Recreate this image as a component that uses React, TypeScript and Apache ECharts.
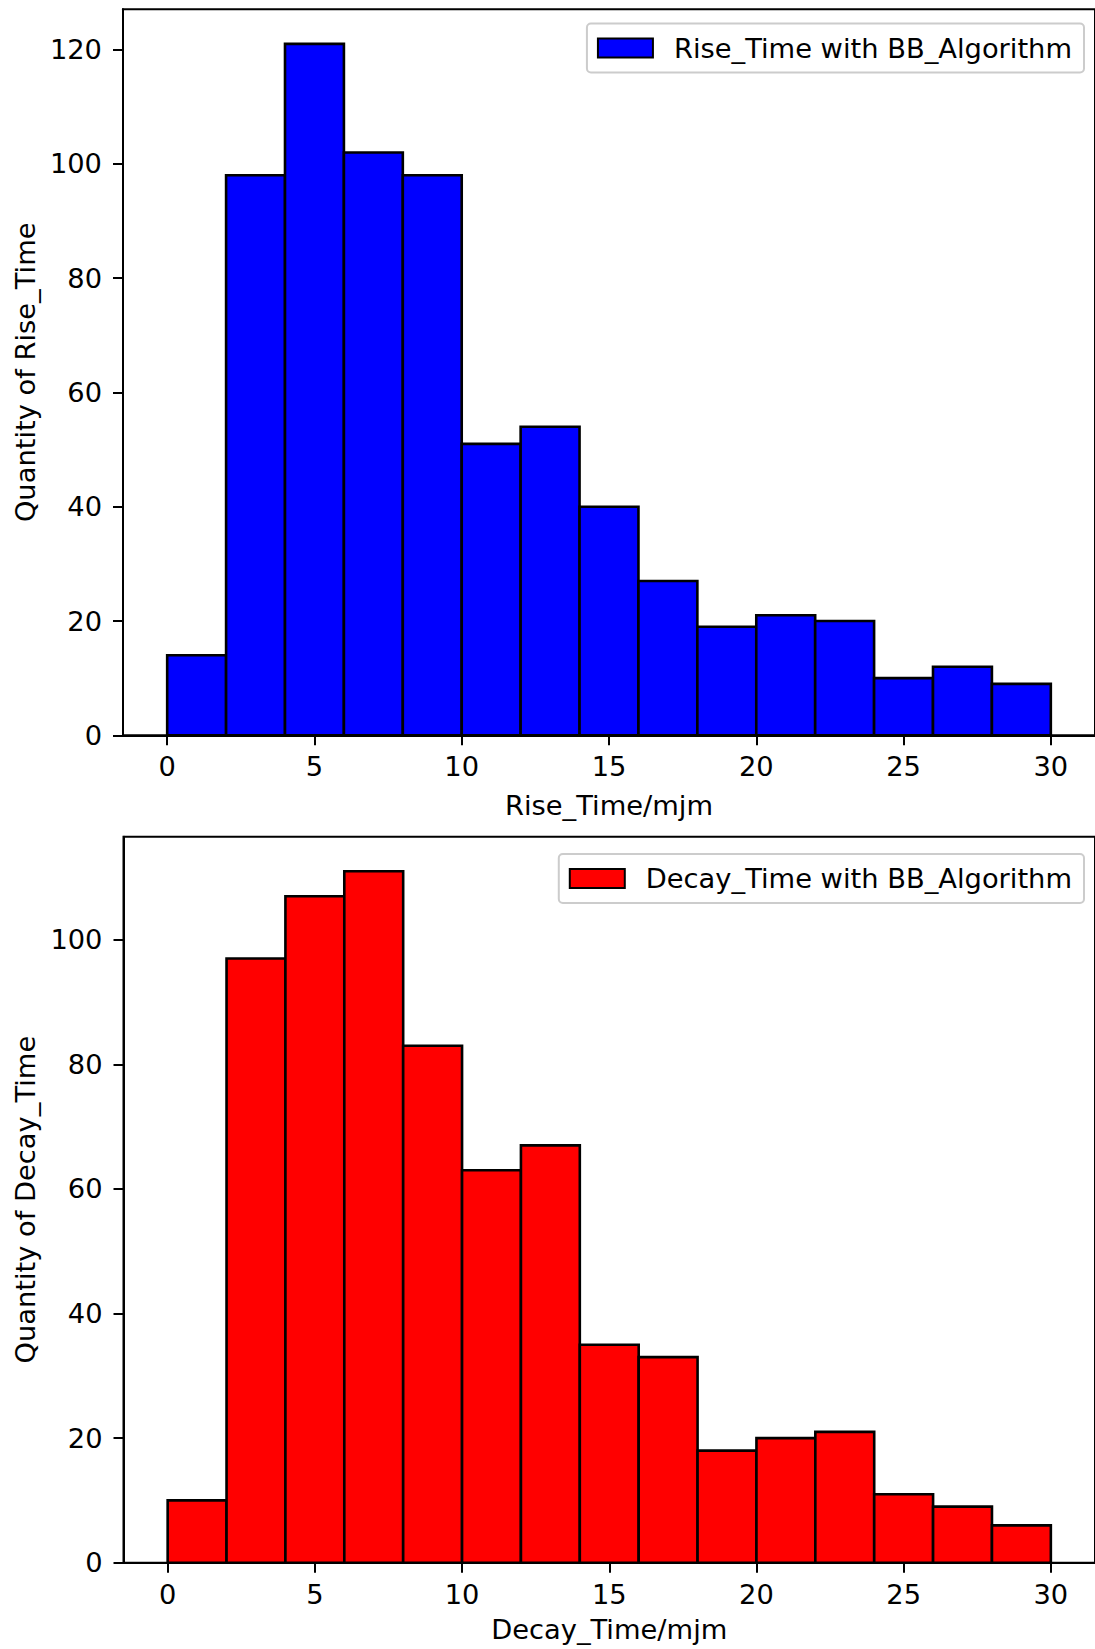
import React, { useEffect, useRef } from "react";
import * as echarts from "echarts";

const binEdges = [0, 2, 4, 6, 8, 10, 12, 14, 16, 18, 20, 22, 24, 26, 28, 30];
const riseCounts = [14, 98, 121, 102, 98, 51, 54, 40, 27, 19, 21, 20, 10, 12, 9];
const decayCounts = [10, 97, 107, 111, 83, 63, 67, 35, 33, 18, 20, 21, 11, 9, 6];
const xTicks = [0, 5, 10, 15, 20, 25, 30];
const yTicksRise = [0, 20, 40, 60, 80, 100, 120];
const yTicksDecay = [0, 20, 40, 60, 80, 100];
const riseName = "Rise_Time with BB_Algorithm";
const decayName = "Decay_Time with BB_Algorithm";

const FONT = "DejaVu Sans";
const FS = 27.3;

function toBins(counts: number[]) {
  return counts.map((c, i) => [binEdges[i], binEdges[i + 1], c]);
}

function makeRender(fill: string) {
  return (params: any, api: any) => {
    const x0 = api.value(0);
    const x1 = api.value(1);
    const y = api.value(2);
    const p0 = api.coord([x0, y]);
    const p1 = api.coord([x1, 0]);
    return {
      type: "rect",
      shape: { x: p0[0], y: p0[1], width: p1[0] - p0[0], height: p1[1] - p0[1] },
      style: { fill, stroke: "#000", lineWidth: 2.6 },
    };
  };
}

function xAxisCfg(gridIndex: number, name: string, nameGap: number) {
  return {
    type: "value",
    gridIndex,
    min: -1.5,
    max: 31.5,
    name,
    nameLocation: "middle",
    nameGap,
    nameTextStyle: { fontFamily: FONT, fontSize: FS, color: "#000", verticalAlign: "middle" },
    axisLine: { show: true, onZero: false, lineStyle: { color: "#000", width: 2 } },
    axisTick: { show: true, length: 10, lineStyle: { color: "#000", width: 2 }, customValues: xTicks },
    axisLabel: {
      show: true,
      customValues: xTicks,
      margin: 31.5,
      verticalAlign: "middle",
      fontFamily: FONT,
      fontSize: FS,
      color: "#000",
    },
    splitLine: { show: false },
  };
}

function yAxisCfg(gridIndex: number, name: string, max: number, ticks: number[]) {
  return {
    type: "value",
    gridIndex,
    min: 0,
    max,
    name,
    nameLocation: "middle",
    nameGap: 98,
    nameTextStyle: { fontFamily: FONT, fontSize: FS, color: "#000", verticalAlign: "middle" },
    axisLine: { show: true, onZero: false, lineStyle: { color: "#000", width: 2 } },
    axisTick: { show: true, length: 10, lineStyle: { color: "#000", width: 2 }, customValues: ticks },
    axisLabel: {
      show: true,
      customValues: ticks,
      margin: 21,
      fontFamily: FONT,
      fontSize: FS,
      color: "#000",
    },
    splitLine: { show: false },
  };
}

function legendCfg(name: string, color: string, top: number) {
  return {
    right: 11,
    top,
    orient: "horizontal",
    data: [
      {
        name,
        icon: "rect",
        itemStyle: { color, borderColor: "#000", borderWidth: 2 },
      },
    ],
    itemWidth: 55,
    itemHeight: 19,
    padding: [11, 12, 11, 10],
    backgroundColor: "rgba(255,255,255,0.8)",
    borderColor: "#cccccc",
    borderWidth: 2,
    borderRadius: 4,
    textStyle: { fontFamily: FONT, fontSize: FS, color: "#000", padding: [0, 0, 0, 16] },
    selectedMode: false,
  };
}

export default function App() {
  const ref = useRef<HTMLDivElement>(null);
  useEffect(() => {
    if (!ref.current) return;
    const chart = echarts.init(ref.current, null, { renderer: "svg" });
    const riseMax = Math.max(...riseCounts) * 1.05;
    const decayMax = Math.max(...decayCounts) * 1.05;
    chart.setOption({
      animation: false,
      backgroundColor: "#ffffff",
      grid: [
        { left: 123, top: 9.3, width: 975, height: 726, show: true, borderColor: "#000", borderWidth: 2, containLabel: false },
        { left: 123.5, top: 836.7, width: 975, height: 726, show: true, borderColor: "#000", borderWidth: 2, containLabel: false },
      ],
      xAxis: [xAxisCfg(0, "Rise_Time/mjm", 70), xAxisCfg(1, "Decay_Time/mjm", 66.5)],
      yAxis: [
        yAxisCfg(0, "Quantity of Rise_Time", riseMax, yTicksRise),
        yAxisCfg(1, "Quantity of Decay_Time", decayMax, yTicksDecay),
      ],
      legend: [legendCfg(riseName, "#0000ff", 23.5), legendCfg(decayName, "#ff0000", 854)],
      series: [
        {
          type: "custom",
          name: riseName,
          xAxisIndex: 0,
          yAxisIndex: 0,
          itemStyle: { color: "#0000ff" },
          encode: { x: [0, 1], y: 2 },
          renderItem: makeRender("#0000ff"),
          data: toBins(riseCounts),
        },
        {
          type: "custom",
          name: decayName,
          xAxisIndex: 1,
          yAxisIndex: 1,
          itemStyle: { color: "#ff0000" },
          encode: { x: [0, 1], y: 2 },
          renderItem: makeRender("#ff0000"),
          data: toBins(decayCounts),
        },
      ],
    });
    return () => chart.dispose();
  }, []);
  return (
    <div
      ref={ref}
      style={{ position: "absolute", left: 0, top: 0, width: 1095, height: 1649, background: "#fff" }}
    />
  );
}
